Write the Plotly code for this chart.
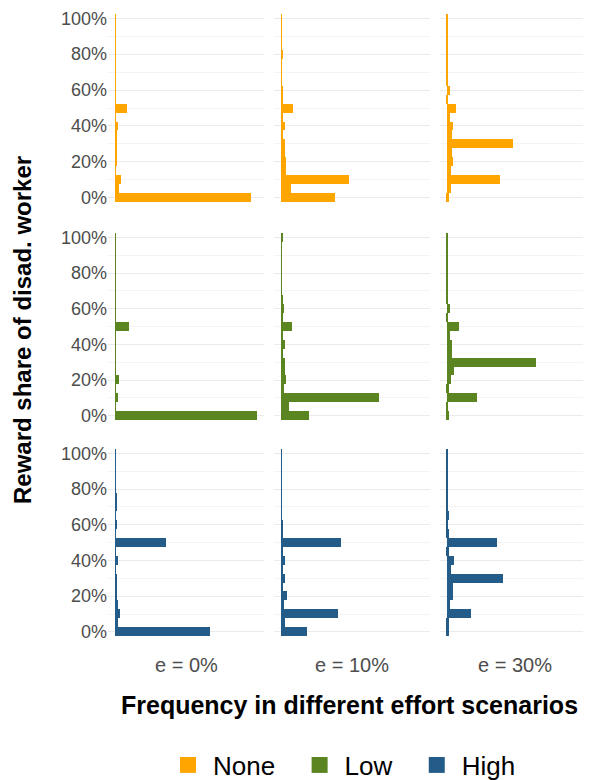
import plotly.graph_objects as go

shares = [0, 5, 10, 15, 20, 25, 30, 35, 40, 45, 50, 55, 60, 65, 70, 75, 80, 85, 90, 95, 100]
scenarios = ["e = 0%", "e = 10%", "e = 30%"]
groups = ["None", "Low", "High"]
colors = {"None": "#FFA500", "Low": "#5B8520", "High": "#235C88"}

# frequency per 5% bin, one list per scenario
none_freq = [
    [408, 12, 18, 2, 5, 5, 5, 5, 9, 2, 36, 2, 2, 2, 1, 1, 1, 1, 1, 1, 2],
    [162, 30, 204, 15, 15, 12, 12, 3, 12, 3, 36, 3, 6, 2, 2, 2, 6, 2, 2, 2, 2],
    [6, 12, 165, 12, 21, 15, 207, 15, 21, 9, 30, 3, 9, 2, 2, 2, 2, 2, 2, 2, 2],
]
low_freq = [
    [426, 2, 9, 1, 12, 2, 2, 2, 2, 2, 42, 1, 1, 1, 1, 1, 1, 1, 1, 1, 2],
    [84, 24, 294, 9, 15, 12, 12, 6, 12, 3, 33, 3, 9, 6, 2, 2, 2, 2, 2, 2, 6],
    [6, 2, 96, 6, 12, 24, 279, 15, 18, 9, 39, 2, 9, 2, 2, 2, 2, 2, 2, 2, 2],
]
high_freq = [
    [285, 9, 15, 9, 6, 6, 6, 2, 9, 2, 153, 1, 6, 1, 6, 6, 1, 1, 1, 1, 1],
    [78, 12, 171, 9, 18, 6, 12, 6, 12, 6, 180, 6, 6, 2, 2, 2, 2, 2, 2, 2, 2],
    [6, 6, 75, 9, 21, 21, 177, 12, 24, 6, 156, 6, 2, 6, 2, 2, 2, 2, 2, 2, 2],
]
data = {"None": none_freq, "Low": low_freq, "High": high_freq}

fig = go.Figure()
xdoms = [[0, 0.324], [0.344, 0.668], [0.689, 1]]
ydoms = [[0.691, 1], [0.344, 0.651], [0, 0.307]]
font = "Liberation Sans, Arial, sans-serif"

n = 0
for r, g in enumerate(groups):
    for c in range(3):
        n += 1
        sfx = "" if n == 1 else str(n)
        fig.add_trace(go.Bar(
            x=data[g][c], y=shares, orientation="h", width=5,
            marker=dict(color=colors[g], line=dict(width=0)),
            showlegend=False, xaxis="x" + sfx, yaxis="y" + sfx,
        ))
        fig.layout["xaxis" + sfx] = dict(
            domain=xdoms[c], anchor="y" + sfx, range=[-21, 447], automargin=False,
            showgrid=False, showticklabels=False, zeroline=False, fixedrange=True,
        )
        fig.layout["yaxis" + sfx] = dict(
            domain=ydoms[r], anchor="x" + sfx, range=[-4, 104], automargin=False,
            tickvals=[0, 20, 40, 60, 80, 100], ticktext=["0%", "20%", "40%", "60%", "80%", "100%"],
            showticklabels=(c == 0), gridcolor="#EBEBEB", gridwidth=1.3, zeroline=False,
            minor=dict(dtick=10, tick0=0, showgrid=True, gridcolor="#F4F4F4", gridwidth=0.8),
            tickfont=dict(size=18, color="#4D4D4D"), ticks="", ticklen=0,
        )

# legend entries (large squares)
for g in groups:
    fig.add_trace(go.Scatter(x=[None], y=[None], mode="markers", name=g + "\u00a0\u00a0",
                             marker=dict(symbol="square", size=30, color=colors[g])))

for c, s in enumerate(scenarios):
    fig.add_annotation(text=s, x=sum(xdoms[c]) / 2, y=(639 - 665) / 628, xref="paper", yref="paper",
                       showarrow=False, xanchor="center", yanchor="middle",
                       font=dict(size=20, color="#4D4D4D"))

fig.add_annotation(text="<b>Frequency in different effort scenarios</b>", x=0.5, y=(639 - 705) / 628,
                   xref="paper", yref="paper", showarrow=False, xanchor="center", yanchor="middle",
                   font=dict(size=25, color="black"))
fig.add_annotation(text="<b>Reward share of disad. worker</b>", x=-86 / 482, y=(639 - 330) / 628,
                   xref="paper", yref="paper", showarrow=False, textangle=-90, xanchor="center",
                   font=dict(size=24, color="black"))

fig.update_layout(
    width=591, height=780, margin=dict(l=100, r=9, t=3, b=149, autoexpand=False),
    plot_bgcolor="white", paper_bgcolor="white", bargap=0,
    font=dict(family=font),
    legend=dict(orientation="h", x=0.5, xanchor="center", y=(639 - 765) / 628, yanchor="middle",
                font=dict(size=26, color="black"), itemwidth=40),
)

fig.write_html("out.html")
